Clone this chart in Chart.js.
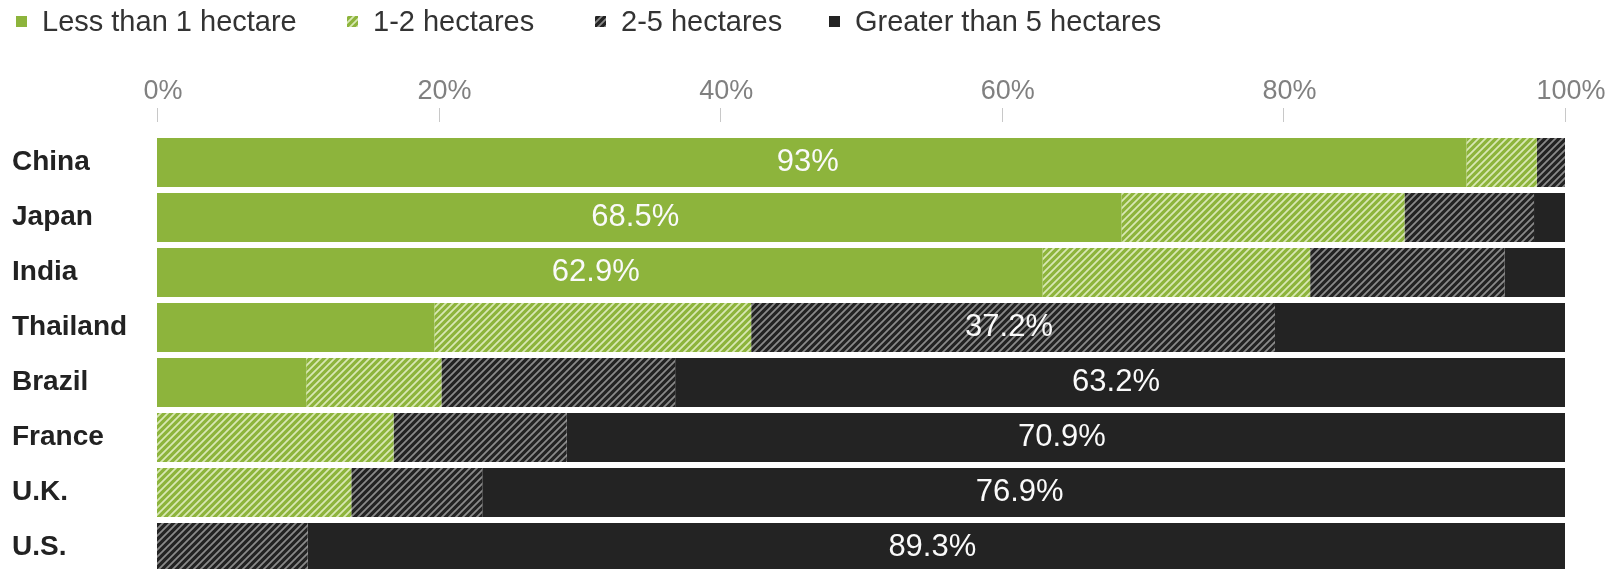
<!DOCTYPE html>
<html><head><meta charset="utf-8">
<script src="https://cdn.jsdelivr.net/npm/chart.js@4.4.1/dist/chart.umd.min.js"></script>
<style>
html,body{margin:0;padding:0;background:#fff;overflow:hidden;}
#wrap{position:relative;width:1624px;height:575px;}
#legend{position:absolute;left:0;top:0;width:1624px;height:44px;font-family:"Liberation Sans",Arial,sans-serif;font-size:29px;color:#333;z-index:2;}
.item{position:absolute;top:5px;height:32px;line-height:32px;white-space:nowrap;}
.item canvas{position:static;display:inline-block;vertical-align:middle;margin-right:15px;margin-top:-3px;}
#chart{position:absolute;left:0;top:0;}
</style></head>
<body>
<div id="wrap">
  <div id="legend"></div>
  <canvas id="chart" width="1624" height="575"></canvas>
</div>
<script>
// ---- data ----
const categories = ["China","Japan","India","Thailand","Brazil","France","U.K.","U.S."];
const seriesNames = ["Less than 1 hectare","1-2 hectares","2-5 hectares","Greater than 5 hectares"];
const lessThan1 = [93, 68.5, 62.9, 19.7, 10.6, 0, 0, 0];
const oneToTwo = [5, 20.1, 19.0, 22.5, 9.6, 16.8, 13.8, 0];
const twoToFive = [2, 9.2, 13.8, 37.2, 16.6, 12.3, 9.3, 10.7];
const greaterThan5 = [0, 2.2, 4.3, 20.6, 63.2, 70.9, 76.9, 89.3];
const xTicks = [0, 20, 40, 60, 80, 100];

// ---- styles ----
const GREEN = '#8db43c';
const DARK = '#232323';
const FONT = '"Liberation Sans", Arial, sans-serif';
const LEGEND_LEFT = [16, 347, 595, 829];

function makeHatch(ctx, bg, line, lw) {
  const p = 7;
  const c = document.createElement('canvas');
  c.width = p; c.height = p;
  const g = c.getContext('2d');
  g.fillStyle = bg; g.fillRect(0, 0, p, p);
  g.strokeStyle = line; g.lineWidth = lw;
  g.beginPath();
  g.moveTo(-1, p + 1); g.lineTo(p + 1, -1);
  g.moveTo(-1, 1); g.lineTo(1, -1);
  g.moveTo(p - 1, p + 1); g.lineTo(p + 1, p - 1);
  g.stroke();
  return ctx.createPattern(c, 'repeat');
}
function fillsFor(ctx) {
  return [
    GREEN,
    makeHatch(ctx, GREEN, 'rgba(235,245,210,0.8)', 1.8),
    makeHatch(ctx, DARK, '#8a8a8a', 1.8),
    DARK
  ];
}

const canvas = document.getElementById('chart');
const ctx = canvas.getContext('2d');
const fills = fillsFor(ctx);
const seriesData = [lessThan1, oneToTwo, twoToFive, greaterThan5];

// legend (HTML)
const legendEl = document.getElementById('legend');
seriesNames.forEach((name, i) => {
  const it = document.createElement('div');
  it.className = 'item';
  it.style.left = LEGEND_LEFT[i] + 'px';
  const sw = document.createElement('canvas');
  sw.width = 11; sw.height = 11;
  const sctx = sw.getContext('2d');
  sctx.fillStyle = fillsFor(sctx)[i];
  sctx.fillRect(0, 0, 11, 11);
  it.appendChild(sw);
  it.appendChild(document.createTextNode(name));
  legendEl.appendChild(it);
});

const valueLabels = {
  id: 'valueLabels',
  afterDatasetsDraw(chart) {
    const c = chart.ctx;
    c.save();
    c.fillStyle = '#fafafa';
    c.font = '31px ' + FONT;
    c.textAlign = 'center';
    c.textBaseline = 'middle';
    categories.forEach((cat, i) => {
      let best = 0, bv = -1;
      chart.data.datasets.forEach((ds, d) => { if (ds.data[i] > bv) { bv = ds.data[i]; best = d; } });
      const el = chart.getDatasetMeta(best).data[i];
      c.fillText(bv + '%', (el.x + el.base) / 2 - 4, el.y);
    });
    c.restore();
  }
};
const tickMarks = {
  id: 'tickMarks',
  afterDraw(chart) {
    const c = chart.ctx, s = chart.scales.x;
    c.save();
    c.strokeStyle = '#c8c8c8';
    c.lineWidth = 1;
    xTicks.forEach(v => {
      const x = Math.round(s.getPixelForValue(v)) + 0.5;
      c.beginPath(); c.moveTo(x, 108); c.lineTo(x, 122); c.stroke();
    });
    c.restore();
  }
};

new Chart(ctx, {
  type: 'bar',
  data: {
    labels: categories,
    datasets: seriesNames.map((n, i) => ({
      label: n,
      data: seriesData[i],
      backgroundColor: fills[i],
      borderWidth: 0,
      barPercentage: 0.89,
      categoryPercentage: 1
    }))
  },
  options: {
    indexAxis: 'y',
    responsive: false,
    animation: false,
    layout: { padding: { left: 12, right: 59, top: 0, bottom: 0 } },
    plugins: { legend: { display: false }, tooltip: { enabled: false } },
    scales: {
      x: {
        position: 'top', stacked: true, min: 0, max: 100,
        afterBuildTicks: s => { s.ticks = xTicks.map(v => ({ value: v })); },
        afterFit: s => { s.height = 135; s.paddingLeft = 0; s.paddingRight = 0; },
        grid: { display: false, drawTicks: false },
        border: { display: false },
        ticks: { callback: v => v + '%', color: '#808080', font: { family: FONT, size: 27 }, padding: 27, labelOffset: 6, maxRotation: 0, autoSkip: false }
      },
      y: {
        stacked: true,
        afterFit: s => { s.width = 145; s.paddingTop = 0; s.paddingBottom = 0; },
        grid: { display: false, drawTicks: false },
        border: { display: false },
        ticks: { crossAlign: 'far', color: '#222', font: { family: FONT, size: 28, weight: 'bold' }, padding: 0 }
      }
    }
  },
  plugins: [valueLabels, tickMarks]
});
</script>
</body></html>
